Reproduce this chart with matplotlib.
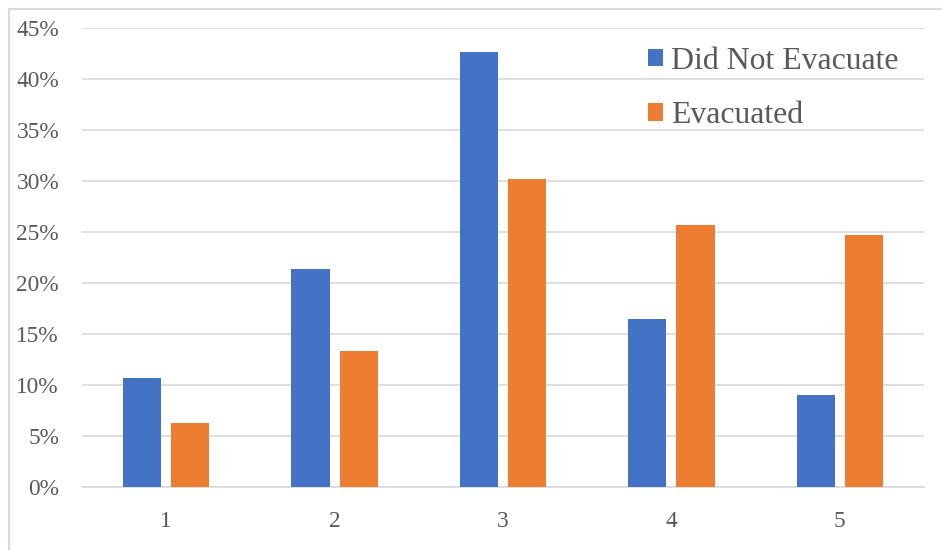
import matplotlib.pyplot as plt
from matplotlib.patches import Rectangle

categories = ["1", "2", "3", "4", "5"]
did_not_evacuate = [10.7, 21.4, 42.6, 16.5, 9.0]
evacuated = [6.3, 13.3, 30.2, 25.7, 24.7]
yticks = [0, 5, 10, 15, 20, 25, 30, 35, 40, 45]

plt.rcParams['font.family'] = ['Liberation Serif', 'DejaVu Serif']
gris = '#595959'

fig = plt.figure(figsize=(9.42, 5.5), dpi=100)
ax = fig.add_axes([82 / 942, 1 - 487 / 550, (924 - 82) / 942, (487 - 28) / 550])

x = list(range(len(categories)))
w = 0.226
ecart = 0.06
ax.bar([i - (w + ecart) / 2 for i in x], did_not_evacuate, width=w, color='#4472c4',
       label='Did Not Evacuate', zorder=3)
ax.bar([i + (w + ecart) / 2 for i in x], evacuated, width=w, color='#ed7d31',
       label='Evacuated', zorder=3)

ax.set_xlim(-0.5, 4.5)
ax.set_ylim(0, 45)
ax.set_yticks(yticks)
ax.set_yticklabels([str(t) + '%' for t in yticks])
ax.set_xticks(x)
ax.set_xticklabels(categories)
ax.tick_params(axis='both', length=0, labelsize=16.8, colors=gris)
ax.tick_params(axis='y', pad=16.5)
ax.tick_params(axis='x', pad=17)
ax.grid(axis='y', color='#d9d9d9', linewidth=1.2, zorder=0)
for s in ['top', 'right', 'left']:
    ax.spines[s].set_visible(False)
ax.spines['bottom'].set_color('#d9d9d9')
ax.spines['bottom'].set_linewidth(1.2)

leg = fig.legend(*ax.get_legend_handles_labels(), loc='upper left',
                 bbox_to_anchor=(648 / 942, 1 - 47 / 550), frameon=False,
                 fontsize=22.9, handlelength=0.47, handleheight=0.47, handletextpad=0.25,
                 labelspacing=0.8, labelcolor=gris, borderpad=0, borderaxespad=0)

# cadre gris autour du graphique
fig.patches.append(Rectangle((9 / 942, -0.1), 1.2, 1 - 9 / 550 + 0.1,
                             transform=fig.transFigure, fill=False,
                             edgecolor='#d9d9d9', linewidth=1.5))

fig.savefig('out.png', dpi=100)
